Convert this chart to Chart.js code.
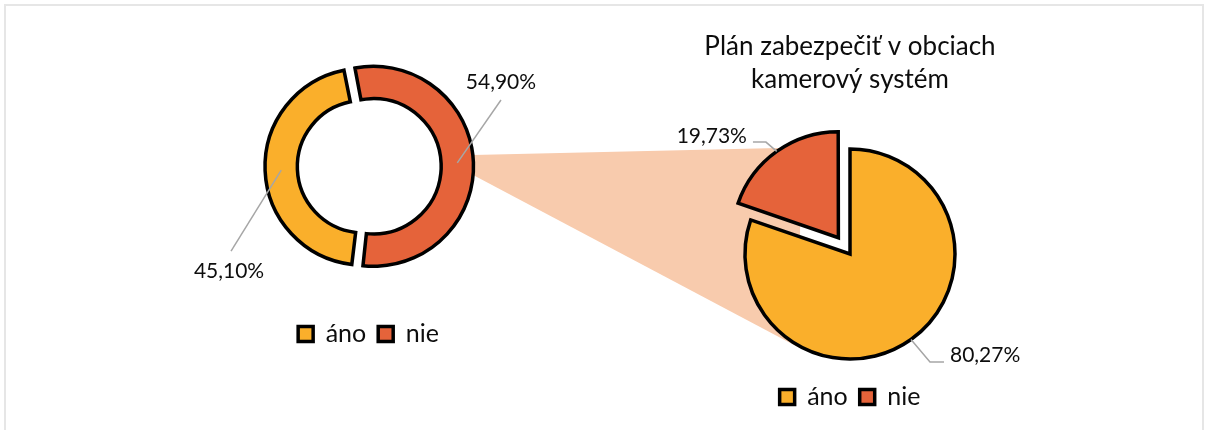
<!DOCTYPE html>
<html>
<head>
<meta charset="utf-8">
<title>Kamerový systém v obciach</title>
<script src="https://cdn.jsdelivr.net/npm/chart.js@4.4.1/dist/chart.umd.min.js"></script>
<style>
  html, body { margin: 0; padding: 0; background: #ffffff; }
  #wrap { position: relative; width: 1211px; height: 430px; overflow: hidden; background: #ffffff; }
  #frame { position: absolute; left: 4px; top: 4px; width: 1200px; height: 460px;
           border: 2px solid #e6e6e6; box-sizing: border-box; }
  canvas { position: absolute; left: 0; top: 0; }
</style>
</head>
<body>
<div id="wrap">
  <div id="frame"></div>
  <canvas id="pie" width="1211" height="430"></canvas>
  <canvas id="ring" width="1211" height="430"></canvas>
</div>
<script>
// --- data ---
const categories = ['áno', 'nie'];
const ringValues = [45.10, 54.90];
const pieValues = [80.27, 19.73];
const pieTitle = ['Plán zabezpečiť v obciach', 'kamerový systém'];

// --- styling ---
const COLORS = ['#FAAF2B', '#E5633A'];
const BAND = '#F8CBAD';
const INK = '#0D0D0D';
const LEADER = '#A6A6A6';
const DEG = Math.PI / 180;

Chart.defaults.font.family = 'Lato';
Chart.defaults.color = INK;

function fmt(v) { return v.toFixed(2).replace('.', ',') + '%'; }

// Where an arc really sits once its offset has been applied.
function arcShape(arc) {
  const p = arc.getProps(['x', 'y', 'startAngle', 'endAngle', 'innerRadius', 'outerRadius', 'circumference'], true);
  const shift = (arc.options.offset || 0) / 4;
  const mid = (p.startAngle + p.endAngle) / 2;
  const grow = shift * (1 - Math.sin(Math.min(Math.PI, p.circumference)));
  return {
    x: p.x + Math.cos(mid) * shift,
    y: p.y + Math.sin(mid) * shift,
    mid,
    inner: p.innerRadius > 0 ? p.innerRadius + grow : 0,
    outer: p.outerRadius + grow
  };
}

// Percentage labels joined to their slice by a thin leader line.
const leaderLabels = {
  id: 'leaderLabels',
  afterDatasetsDraw(chart, args, opts) {
    const { ctx } = chart;
    const values = chart.data.datasets[0].data;
    ctx.save();
    ctx.font = opts.size + 'px Lato';
    chart.getDatasetMeta(0).data.forEach((arc, i) => {
      const s = arcShape(arc);
      const r = opts.onRing ? (s.inner + s.outer) / 2 : s.outer;
      const ax = s.x + Math.cos(s.mid) * r;
      const ay = s.y + Math.sin(s.mid) * r;
      const pl = opts.places[i];
      ctx.beginPath();
      ctx.moveTo(ax, ay);
      pl.path.forEach(([dx, dy]) => ctx.lineTo(ax + dx, ay + dy));
      ctx.strokeStyle = LEADER;
      ctx.lineWidth = 1.5;
      ctx.stroke();
      ctx.fillStyle = INK;
      ctx.textAlign = pl.align;
      ctx.textBaseline = 'alphabetic';
      ctx.fillText(fmt(values[i]), ax + pl.text[0], ay + pl.text[1]);
    });
    ctx.restore();
  }
};

// Light band that leads from the ring's "nie" segment to the breakdown pie.
const zoomBand = {
  id: 'zoomBand',
  beforeDatasetsDraw(chart, args, opts) {
    const src = Chart.getChart('ring');
    if (!src) return;
    const from = arcShape(src.getDatasetMeta(0).data[opts.fromIndex]);
    const fr = from.outer;
    const p1 = [from.x + fr * Math.cos(opts.fromAngles[0] * DEG), from.y + fr * Math.sin(opts.fromAngles[0] * DEG)];
    const p2 = [from.x + fr * Math.cos(opts.fromAngles[1] * DEG), from.y + fr * Math.sin(opts.fromAngles[1] * DEG)];
    const arcs = chart.getDatasetMeta(0).data;
    const cut = arcShape(arcs[opts.toIndex]);
    const ta = cut.mid + opts.topTurn * DEG;
    const tr = cut.outer - opts.topInset;
    const p3 = [cut.x + tr * Math.cos(ta), cut.y + tr * Math.sin(ta)];
    const whole = arcShape(arcs[opts.baseIndex]);
    const R = whole.outer + 1.5;
    const dx = p2[0] - whole.x, dy = p2[1] - whole.y;
    const d = Math.hypot(dx, dy);
    const phi = Math.atan2(dy, dx) - Math.acos(R / d);
    const p4 = [whole.x + R * Math.cos(phi), whole.y + R * Math.sin(phi)];
    const ctx = chart.ctx;
    ctx.save();
    ctx.beginPath();
    ctx.moveTo(p1[0], p1[1]);
    ctx.lineTo(p3[0], p3[1]);
    ctx.lineTo(p4[0], p4[1]);
    ctx.lineTo(p2[0], p2[1]);
    ctx.closePath();
    ctx.fillStyle = BAND;
    ctx.fill();
    ctx.restore();
  }
};

const legendOpts = {
  position: 'bottom',
  labels: {
    font: { family: 'Lato', size: 25 },
    color: INK,
    boxWidth: 15,
    boxHeight: 15,
    padding: 12
  }
};

// Overall answers: ring chart on the left.
new Chart(document.getElementById('ring'), {
  type: 'doughnut',
  data: {
    labels: categories,
    datasets: [{
      data: ringValues,
      backgroundColor: COLORS,
      borderColor: '#000000',
      borderWidth: 3.5,
      borderJoinStyle: 'miter',
      offset: 20
    }]
  },
  options: {
    responsive: false,
    animation: false,
    events: [],
    rotation: 186.5,
    cutout: '66%',
    radius: 95,
    layout: { padding: { left: 0, right: 474, top: 23.5, bottom: 73.5 } },
    plugins: {
      legend: legendOpts,
      tooltip: { enabled: false },
      leaderLabels: {
        size: 21,
        onRing: true,
        places: [
          { path: [[-50.2, 81]], text: [-52.2, 108], align: 'center' },
          { path: [[43.7, -62.9]], text: [43.7, -73.9], align: 'center' }
        ]
      }
    }
  },
  plugins: [leaderLabels]
});

// Breakdown pie on the right, with the "nie" slice pulled out.
new Chart(document.getElementById('pie'), {
  type: 'pie',
  data: {
    labels: categories,
    datasets: [{
      data: pieValues,
      backgroundColor: COLORS,
      borderColor: '#000000',
      borderWidth: 3.5,
      borderJoinStyle: 'miter',
      offset: [0, 80]
    }]
  },
  options: {
    responsive: false,
    animation: false,
    events: [],
    rotation: 0,
    radius: 105,
    layout: { padding: { left: 489, right: 0, top: 0, bottom: 10.5 } },
    plugins: {
      title: {
        display: true,
        text: pieTitle,
        color: INK,
        font: { family: 'Lato', size: 26, weight: 'normal', lineHeight: 1.27 },
        padding: { top: 30.5, bottom: 39 }
      },
      legend: legendOpts,
      tooltip: { enabled: false },
      zoomBand: { fromIndex: 1, fromAngles: [-6.5, 5], toIndex: 1, baseIndex: 0, topTurn: 12.5, topInset: 8 },
      leaderLabels: {
        size: 21,
        onRing: false,
        places: [
          { path: [[19, 22.5], [33, 22.5]], text: [39, 22.5], align: 'left' },
          { path: [[-10.8, -9.3], [-23.8, -9.3]], text: [-29.8, -8.3], align: 'right' }
        ]
      }
    }
  },
  plugins: [zoomBand, leaderLabels]
});
</script>
</body>
</html>
